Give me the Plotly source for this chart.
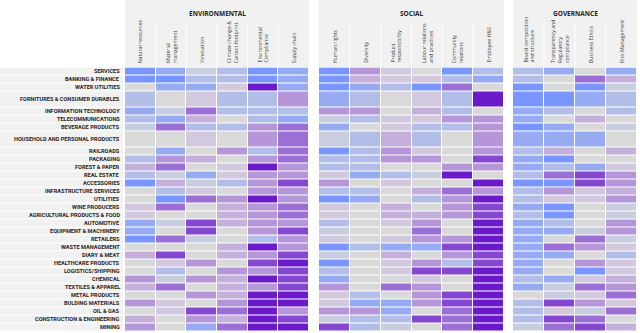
import plotly.graph_objects as go

# ---------------- data ----------------
industries = [
    "SERVICES", "BANKING & FINANCE", "WATER UTILITIES", "FORNITURES & CONSUMER DURABLES",
    "INFORMATION TECHNOLOGY", "TELECOMMUNICATIONS", "BEVERAGE PRODUCTS",
    "HOUSEHOLD AND PERSONAL PRODUCTS", "RAILROADS", "PACKAGING", "FOREST & PAPER",
    "REAL ESTATE", "ACCESSORIES", "INFRASTRUCTURE SERVICES", "UTILITIES", "WINE PRODUCERS",
    "AGRICULTURAL PRODUCTS & FOOD", "AUTOMOTIVE", "EQUIPMENT & MACHINERY", "RETAILERS",
    "WASTE MANAGEMENT", "DIARY & MEAT", "HEALTHCARE PRODUCTS", "LOGISTICS/SHIPPING",
    "CHEMICAL", "TEXTILES & APPAREL", "METAL PRODUCTS", "BULDING MATERIALS", "OIL & GAS",
    "CONSTRUCTION & ENGINEERING", "MINING",
]
tall_rows = ["FORNITURES & CONSUMER DURABLES", "HOUSEHOLD AND PERSONAL PRODUCTS"]

group_names = ["ENVIRONMENTAL", "SOCIAL", "GOVERNANCE"]
env_topics = ["Natural resources", "Material<br>management", "Innovation",
              "Climate change &<br>Carbon footprint", "Environmental<br>Compliance", "Supply chain"]
soc_topics = ["Human rights", "Diversity", "Product<br>responsibility",
              "Labour relations<br>and practices", "Community<br>relations", "Employee H&S"]
gov_topics = ["Board composition<br>and structure", "Transparency and<br>Regulatory<br>compliance",
              "Business Ethics", "Risk Management"]

# scores: -4 (strong blue) ... 0 (neutral grey) ... 6 (strong purple)
env_values = [
    [-4, -3, -1, -2, -4, -3],
    [-4, -4, -2, -2, -4, -3],
    [0, -3, -3, 1, 6, -3],
    [-2, 0, 1, -2, -2, 3],
    [-3, -1, 4, -2, -2, -2],
    [-2, -3, 2, 0, -2, -3],
    [-1, 4, -2, -2, 3, 4],
    [0, 0, 1, 0, 3, 4],
    [0, -3, 0, 3, -2, 4],
    [-2, 3, 2, 0, 3, 4],
    [2, 4, 0, 1, 6, 3],
    [-2, -1, -3, 1, 3, 3],
    [-4, 2, -1, -2, 3, 5],
    [0, -2, 1, 0, 3, 3],
    [0, -4, 4, 3, 6, 3],
    [1, 4, 0, 2, 3, 4],
    [1, 0, 0, 2, 3, 4],
    [-3, -1, 5, 2, 3, 3],
    [-3, 0, 5, 0, 3, 5],
    [-4, 4, -1, 0, -2, 3],
    [0, 0, 0, 2, 6, 3],
    [2, 5, 0, 2, 3, 5],
    [0, 1, 3, 0, 5, 6],
    [0, -2, 0, 3, 3, 5],
    [3, -1, 3, 2, 6, 5],
    [2, 4, 0, 2, 3, 5],
    [0, 0, 3, 2, 6, 6],
    [3, 1, 0, 3, 6, 6],
    [0, 1, 5, 4, 6, 3],
    [2, 0, 3, 2, 6, 5],
    [3, 0, -3, 4, 6, 6],
]
soc_values = [
    [-4, 3, 1, 0, -4, -2],
    [-4, 2, 1, 1, -2, -3],
    [-4, -3, -2, -4, 4, 0],
    [-3, -2, 0, 1, -2, 6],
    [3, 3, 0, 2, -2, 0],
    [-1, -2, 1, 1, 3, 3],
    [-3, 0, 1, -2, -2, 3],
    [-1, -2, 2, -2, 0, 3],
    [-4, -2, 3, 1, 0, 3],
    [-2, -2, 3, 3, 0, 5],
    [-2, -2, 0, 0, 3, 3],
    [1, -3, -2, -1, 6, 0],
    [3, 0, 1, 0, 0, 6],
    [-2, -2, 0, 2, 4, 3],
    [-4, -3, 0, -2, 3, 6],
    [1, 0, 2, 0, 3, 5],
    [1, 0, 2, 2, 3, 5],
    [-2, 0, 1, 3, 0, 6],
    [-1, 0, 0, 4, 0, 6],
    [1, 0, 1, 3, 3, 6],
    [-4, -2, -3, -3, 5, 6],
    [-1, 0, 2, 0, 3, 5],
    [-4, 0, 1, 3, -2, 5],
    [-2, 0, 1, 5, 5, 6],
    [-3, 0, 0, 1, 0, 6],
    [3, 0, 4, 3, 0, 6],
    [1, -2, 0, 3, 5, 6],
    [1, -3, -3, 3, 5, 6],
    [3, 3, -3, 0, 4, 6],
    [-1, -2, -2, 5, 4, 6],
    [5, -2, -1, 0, 4, 6],
]
gov_values = [
    [-2, -3, 0, -3],
    [-2, 0, 4, 2],
    [-4, 0, -4, -1],
    [-4, -4, -3, -2],
    [-3, -2, 0, -2],
    [-3, 0, 2, 0],
    [-4, -3, 0, -1],
    [-3, -3, -3, 0],
    [-2, 2, 0, 2],
    [-3, -4, 0, 0],
    [-3, -2, -3, 1],
    [-2, 4, 5, 3],
    [-4, -4, 5, 3],
    [-2, 3, 1, 2],
    [-2, 1, 1, 3],
    [-3, -4, 0, -1],
    [-2, -4, 0, -1],
    [-3, -2, 0, 3],
    [-3, -3, -1, 3],
    [-3, 0, 4, -1],
    [-3, 4, 3, 1],
    [-3, -3, 0, -2],
    [-3, 0, 3, 1],
    [-3, 0, -4, 1],
    [-2, -3, 1, 2],
    [-3, -1, 4, 3],
    [0, -1, 1, 4],
    [-2, 5, 3, 1],
    [-2, 1, -1, 4],
    [-2, 5, 4, 0],
    [-1, 4, 5, 2],
]

# ---------------- layout constants ----------------
W, H = 640, 333
TOP_PX, BOTTOM_PX = 67.5, 331.0
LABEL_RIGHT_PX = 123
group_px = [(125, 309), (319, 504), (513, 637)]

colorscale = [
    [0.0, "#7896fd"], [0.1, "#97abf2"], [0.2, "#b3bee8"], [0.3, "#c9cde0"],
    [0.4, "#d9d9d9"], [0.5, "#d3c9de"], [0.6, "#c5b0dc"], [0.7, "#b596d9"],
    [0.8, "#9c6fd4"], [0.9, "#8547cf"], [1.0, "#6a1ac8"],
]
ZMIN, ZMAX = -4, 6

units = [2 if r in tall_rows else 1 for r in industries]
edges = [0]
for u in units:
    edges.append(edges[-1] + u)
total = edges[-1]
centers = [(edges[i] + edges[i + 1]) / 2 for i in range(len(industries))]

ydom = [(H - BOTTOM_PX) / H, (H - TOP_PX) / H]

fig = go.Figure()
groups = [(env_topics, env_values), (soc_topics, soc_values), (gov_topics, gov_values)]
axis_ids = ["", "2", "3"]
for gi, ((topics, vals), aid) in enumerate(zip(groups, axis_ids)):
    n = len(topics)
    fig.add_trace(go.Heatmap(
        z=vals, x=list(range(n + 1)), y=edges,
        colorscale=colorscale, zmin=ZMIN, zmax=ZMAX, showscale=False,
        xgap=1, ygap=1, xaxis="x" + aid, yaxis="y", hoverinfo="skip",
    ))
    x0, x1 = group_px[gi]
    fig.layout["xaxis" + aid] = dict(domain=[x0 / W, x1 / W], range=[0, n], visible=False,
                                     anchor="y", fixedrange=True)
    # header background
    fig.add_shape(type="rect", xref="paper", yref="paper", x0=x0 / W, x1=x1 / W,
                  y0=ydom[1], y1=1, fillcolor="#f1f1f1", line_width=0, layer="below")
    for k in range(1, n):
        fig.add_shape(type="line", xref="x" + aid, yref="paper", x0=k, x1=k,
                      y0=ydom[1], y1=(H - 24) / H, line=dict(color="#ffffff", width=1))
    fig.add_annotation(text="<b>%s</b>" % group_names[gi], xref="paper", yref="paper",
                       x=(x0 + x1) / 2 / W, y=(H - 13) / H, showarrow=False,
                       font=dict(size=6.5, color="#262626", family="Open Sans"),
                       xanchor="center", yanchor="middle")
    for k, t in enumerate(topics):
        fig.add_annotation(text=t, xref="x" + aid, yref="paper", x=k + 0.5,
                           y=(H - 65) / H, textangle=-90, showarrow=False,
                           xanchor="center", yanchor="bottom", align="left",
                           font=dict(size=5.2, color="#404040", family="Open Sans"))

# label column background band
fig.add_trace(go.Heatmap(
    z=[[0] for _ in industries], x=[0, 1], y=edges,
    colorscale=[[0, "#f1f1f1"], [1, "#f1f1f1"]], showscale=False, ygap=1,
    xaxis="x4", yaxis="y", hoverinfo="skip",
))
fig.layout["xaxis4"] = dict(domain=[0, LABEL_RIGHT_PX / W], range=[0, 1], visible=False,
                            anchor="y", fixedrange=True)
for name, c in zip(industries, centers):
    fig.add_annotation(text="<b>%s</b>" % name, xref="paper", yref="y",
                       x=(LABEL_RIGHT_PX - 1) / W, y=c, showarrow=False,
                       xanchor="right", yanchor="middle",
                       font=dict(size=5.6, color="#262626", family="Liberation Sans Narrow, Roboto"))

fig.update_layout(
    width=W, height=H, margin=dict(l=0, r=0, t=0, b=0),
    paper_bgcolor="white", plot_bgcolor="white",
    yaxis=dict(domain=ydom, range=[total, 0], visible=False, fixedrange=True),
    showlegend=False,
)
fig.write_html("out.html")
